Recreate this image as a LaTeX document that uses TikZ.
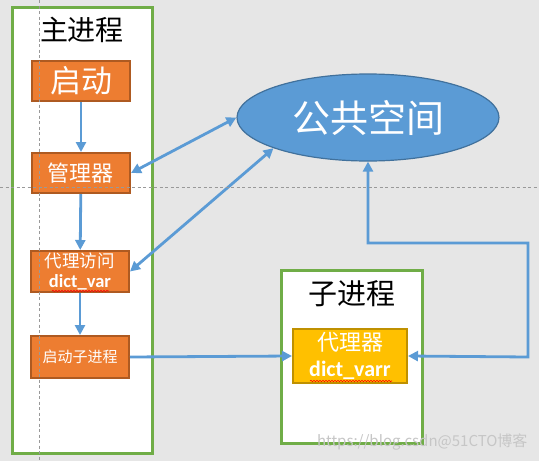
\documentclass[tikz,border=0pt]{standalone}
\usepackage{fontspec}
\setmainfont{Noto Sans CJK SC}
\newfontfamily\latinfont{Carlito}
\usetikzlibrary{arrows.meta,shapes.geometric,decorations.pathmorphing}
\definecolor{bg}{HTML}{E6E6E6}
\definecolor{grn}{HTML}{70AD47}
\definecolor{org}{HTML}{ED7D31}
\definecolor{orgd}{HTML}{AE5A21}
\definecolor{blu}{HTML}{5B9BD5}
\definecolor{blud}{HTML}{41719C}
\definecolor{ylw}{HTML}{FFC000}
\definecolor{ylwd}{HTML}{BF9000}
\tikzset{
  procbox/.style={draw=grn,line width=3pt,fill=white,inner sep=0pt},
  obox/.style={draw=orgd,line width=2pt,fill=org,text=white,inner sep=0pt,minimum width=98pt,align=center},
  ybox/.style={draw=ylwd,line width=2pt,fill=ylw,text=white,inner sep=0pt,align=center},
  arr/.style={draw=blu,line width=2.8pt,-{Triangle[length=10pt,width=10pt]}},
  arrr/.style={draw=blu,line width=2.8pt,{Triangle[length=10pt,width=10pt]}-{Triangle[length=10pt,width=10pt]}},
  guide/.style={draw=gray!80,line width=0.8pt,dash pattern=on 3pt off 2.5pt},
  squig/.style={draw=red,line width=0.6pt,decorate,decoration={snake,amplitude=0.7pt,segment length=3pt}}
}
\begin{document}
\begin{tikzpicture}[x=1pt,y=-1pt]
\fill[bg] (0,0) rectangle (539,461);
\useasboundingbox (0,0) rectangle (539,461);
% main process
\node[procbox,minimum width=140pt,minimum height=446pt] (mainbox) at (82,230) {};
\node[font=\fontsize{28}{28}\selectfont] (maintitle) at (82,30) {主进程};
\node[obox,minimum height=40pt,font=\fontsize{31}{31}\selectfont] (start) at (81,81) {启动};
\node[obox,minimum height=40pt,font=\fontsize{22}{22}\selectfont] (mgr) at (81,173) {管理器};
\node[obox,minimum height=41pt] (proxy) at (80,271.5) {};
\node[text=white,font=\fontsize{17.5}{17.5}\selectfont] (proxyt1) at (80,261) {代理访问};
\node[text=white,font=\latinfont\bfseries\fontsize{18.5}{18.5}\selectfont] (proxyt2) at (80,282) {dict\_var};
\node[obox,minimum height=42pt,font=\fontsize{15}{15}\selectfont] (spawn) at (80,357) {启动子进程};
% public space
\node[ellipse,draw=blud,line width=1.2pt,fill=blu,text=white,minimum width=262pt,minimum height=87pt,inner sep=0pt,font=\fontsize{38}{38}\selectfont] (pub) at (368,117.5) {公共空间};
% sub process
\node[procbox,minimum width=141pt,minimum height=173pt] (subbox) at (351.5,356.5) {};
\node[font=\fontsize{29}{29}\selectfont] (subtitle) at (351.5,294) {子进程};
\node[ybox,minimum width=114pt,minimum height=54pt] (varr) at (350,356) {};
\node[text=white,font=\fontsize{22}{22}\selectfont] (varrt1) at (350,342) {代理器};
\node[text=white,font=\latinfont\bfseries\fontsize{22}{22}\selectfont] (varrt2) at (350,370) {dict\_varr};
% squiggly underlines
\coordinate (sq1a) at (52,291);
\coordinate (sq1b) at (109,291);
\draw[squig] (sq1a) -- (sq1b);
\coordinate (sq2a) at (310,381);
\coordinate (sq2b) at (392,381);
\draw[squig] (sq2a) -- (sq2b);
% connectors
\draw[arr] (start) -- (mgr);
\draw[arr] (mgr) -- (proxy);
\draw[arr] (proxy) -- (spawn);
\draw[arrr] (mgr.east) -- (pub.west);
\draw[arrr] (proxy.east) -- (pub.198);
\draw[arr] (spawn.east) -- (varr.west);
\coordinate (c1) at (528,357);
\coordinate (c2) at (528,243);
\coordinate (c3) at (368,243);
\draw[arrr] (varr.east) -- (c1) -- (c2) -- (c3) -- (pub.south);
% guides
\coordinate (g1a) at (39,0);
\coordinate (g1b) at (39,461);
\coordinate (g2a) at (0,187);
\coordinate (g2b) at (539,187);
\draw[guide] (g1a) -- (g1b);
\draw[guide] (g2a) -- (g2b);
% watermark
\node[text=gray!45,font=\fontsize{15}{15}\selectfont,anchor=east] (wm) at (531,442) {https://blog.csdn@51CTO博客};
\end{tikzpicture}
\end{document}
